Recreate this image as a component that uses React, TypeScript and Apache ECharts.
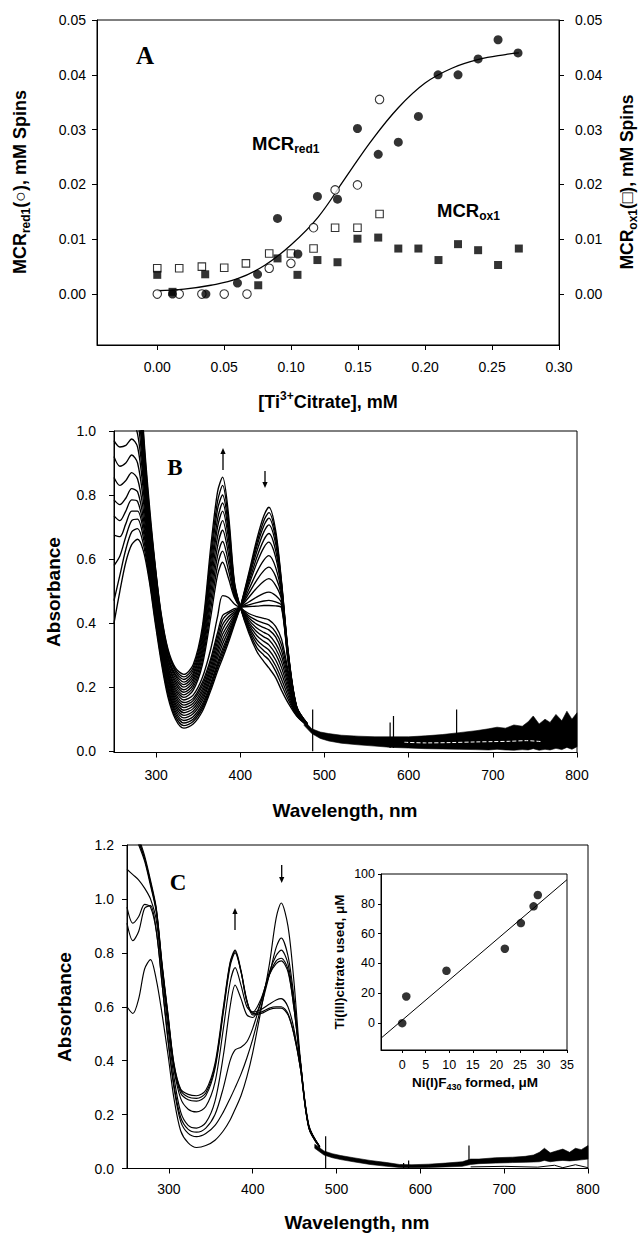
import React, { useEffect, useRef } from "react";
import * as echarts from "echarts";

const SANS = "'Liberation Sans', Arial, Helvetica, sans-serif";
const SERIF = "'Liberation Serif', 'Times New Roman', serif";

// ---------------- Panel A ----------------
const aXTicks = [0, 0.05, 0.1, 0.15, 0.2, 0.25, 0.3];
const aYTicks = [0, 0.01, 0.02, 0.03, 0.04, 0.05];
const red1Open = [
  [0, 0], [0.0164, 0], [0.0333, 0], [0.05, 0], [0.067, 0], [0.0836, 0.0047], [0.0998, 0.0056],
  [0.1167, 0.0121], [0.1328, 0.019], [0.1495, 0.0199], [0.166, 0.0355],
];
const red1Filled = [
  [0.0114, 0], [0.0363, 0], [0.0599, 0.002], [0.0749, 0.0036], [0.0898, 0.0138], [0.105, 0.0073],
  [0.1196, 0.0178], [0.1346, 0.0173], [0.1495, 0.0302], [0.165, 0.0255], [0.18, 0.0277],
  [0.195, 0.0324], [0.2097, 0.04], [0.2246, 0.04], [0.2396, 0.0429], [0.2545, 0.0464], [0.2694, 0.044],
];
const ox1Open = [
  [0, 0.0047], [0.0164, 0.0047], [0.0333, 0.005], [0.05, 0.0048], [0.0662, 0.0056], [0.0836, 0.0074],
  [0.0998, 0.0074], [0.1167, 0.0083], [0.1328, 0.0121], [0.1495, 0.0121], [0.166, 0.0146],
];
const ox1Filled = [
  [0, 0.0035], [0.0114, 0.0004], [0.0358, 0.0036], [0.0754, 0.0016], [0.0898, 0.0065], [0.1047, 0.0035],
  [0.1196, 0.0062], [0.1346, 0.0058], [0.1495, 0.0101], [0.165, 0.0103], [0.18, 0.0083], [0.195, 0.0083],
  [0.21, 0.0062], [0.2246, 0.0091], [0.2396, 0.008], [0.2545, 0.0053], [0.27, 0.0083],
];
const fitX = [0, 0.02, 0.04, 0.06, 0.08, 0.1, 0.12, 0.14, 0.16, 0.18, 0.2, 0.22, 0.24, 0.26, 0.27];
const fitY = [0.0006, 0.0009, 0.0016, 0.0028, 0.0052, 0.009, 0.014, 0.021, 0.028, 0.034, 0.0385, 0.0412, 0.0428, 0.0437, 0.044];

// ---------------- Spectra (B and C) ----------------
const specXTicks = [300, 400, 500, 600, 700, 800];
const bYTicks = [0, 0.2, 0.4, 0.6, 0.8, 1.0];
const cYTicks = [0, 0.2, 0.4, 0.6, 0.8, 1.0, 1.2];
const wavelengths = [250, 257, 264, 271, 278, 285, 292, 299, 306, 314, 323, 333, 344, 355, 365, 373, 379, 386, 393, 400, 410, 420, 428, 434, 442, 449, 457, 467, 480];

const spectraB = [
  [.40, .50, .59, .645, .662, .625, .53, .40, .28, .17, .10, .072, .085, .125, .19, .25, .29, .34, .395, .45, .555, .665, .735, .762, .69, .53, .31, .14, .085],
  [.47, .55, .63, .685, .695, .645, .54, .41, .29, .18, .108, .08, .093, .133, .198, .26, .30, .35, .40, .45, .549, .653, .72, .745, .677, .526, .308, .139, .085],
  [.58, .61, .67, .72, .725, .665, .55, .42, .30, .19, .116, .088, .10, .14, .205, .268, .31, .357, .405, .45, .544, .642, .704, .728, .664, .521, .305, .138, .085],
  [.675, .67, .71, .75, .75, .685, .56, .43, .305, .195, .124, .096, .108, .148, .213, .277, .32, .364, .41, .45, .537, .627, .685, .707, .648, .516, .302, .137, .084],
  [.735, .72, .75, .785, .78, .705, .57, .44, .31, .20, .132, .104, .117, .158, .225, .29, .335, .375, .415, .45, .527, .608, .66, .68, .627, .509, .30, .136, .084],
  [.785, .77, .79, .82, .81, .725, .58, .45, .32, .21, .14, .112, .125, .167, .235, .303, .35, .386, .42, .45, .518, .59, .636, .653, .606, .502, .297, .135, .083],
  [.855, .83, .845, .87, .85, .75, .59, .46, .33, .22, .148, .12, .133, .176, .246, .316, .365, .397, .425, .45, .504, .561, .597, .611, .574, .491, .293, .134, .083],
  [.92, .89, .90, .925, .90, .78, .60, .465, .34, .23, .156, .128, .141, .186, .257, .33, .38, .41, .43, .45, .492, .536, .564, .575, .546, .482, .29, .133, .082],
  [.97, .95, .955, .975, .95, .81, .61, .47, .345, .235, .164, .136, .15, .195, .268, .344, .395, .42, .435, .45, .48, .511, .531, .539, .518, .473, .287, .132, .082],
  [1.05, 1.02, 1.02, 1.03, .99, .84, .62, .48, .35, .24, .172, .144, .158, .205, .28, .357, .41, .43, .44, .45, .466, .482, .493, .497, .486, .462, .283, .131, .081],
  [1.2, 1.15, 1.12, 1.1, 1.04, .86, .635, .49, .355, .245, .18, .152, .165, .215, .29, .37, .424, .435, .445, .45, .457, .464, .469, .471, .466, .455, .28, .13, .081],
  [1.35, 1.3, 1.25, 1.2, 1.1, .88, .65, .50, .36, .25, .188, .16, .175, .23, .32, .42, .486, .48, .46, .45, .452, .453, .455, .455, .454, .448, .277, .129, .08],
  [1.5, 1.45, 1.38, 1.28, 1.15, .90, .665, .51, .37, .26, .195, .168, .19, .27, .42, .55, .59, .54, .48, .45, .43, .42, .415, .41, .39, .35, .25, .125, .08],
  [1.6, 1.52, 1.44, 1.33, 1.18, .91, .68, .52, .375, .265, .203, .176, .199, .283, .445, .58, .625, .565, .486, .45, .423, .408, .40, .394, .372, .332, .239, .123, .08],
  [1.7, 1.6, 1.5, 1.37, 1.2, .92, .69, .53, .385, .275, .211, .184, .208, .297, .47, .61, .655, .59, .492, .45, .417, .396, .386, .379, .357, .314, .228, .122, .08],
  [1.8, 1.68, 1.56, 1.41, 1.22, .93, .70, .54, .39, .28, .219, .192, .217, .31, .495, .64, .69, .615, .498, .45, .41, .384, .371, .363, .337, .297, .217, .12, .08],
  [1.9, 1.76, 1.62, 1.45, 1.24, .94, .71, .55, .40, .29, .227, .20, .226, .323, .52, .67, .72, .64, .504, .45, .403, .372, .357, .348, .32, .279, .206, .118, .08],
  [2.0, 1.84, 1.68, 1.49, 1.26, .95, .72, .555, .405, .295, .235, .208, .235, .337, .545, .70, .75, .665, .51, .45, .397, .36, .343, .332, .303, .261, .194, .117, .08],
  [2.1, 1.92, 1.74, 1.53, 1.28, .96, .73, .56, .41, .30, .24, .216, .243, .35, .568, .725, .775, .685, .515, .45, .39, .347, .328, .316, .285, .243, .183, .115, .08],
  [2.2, 2.0, 1.8, 1.57, 1.30, .97, .745, .57, .42, .31, .248, .224, .252, .363, .592, .755, .80, .70, .52, .45, .383, .335, .314, .30, .267, .225, .172, .113, .08],
  [2.3, 2.08, 1.86, 1.61, 1.32, .985, .755, .575, .425, .315, .254, .232, .261, .377, .616, .78, .83, .72, .525, .45, .377, .322, .30, .285, .25, .208, .161, .112, .08],
  [2.4, 2.16, 1.92, 1.65, 1.34, 1.0, .77, .58, .43, .32, .26, .24, .27, .39, .64, .81, .856, .74, .53, .45, .37, .31, .28, .26, .23, .19, .15, .11, .08],
];

const noiseWB = [476, 485, 495, 505, 520, 540, 560, 580, 600, 620, 640, 660, 680, 695, 705, 715, 725, 735, 742, 748, 755, 762, 768, 775, 782, 788, 794, 800];
const noiseLowB = [.08, .055, .04, .032, .025, .02, .016, .012, .01, .008, .007, .006, .005, .004, .006, .004, .003, .005, .004, .008, .003, .006, .004, .009, .005, .012, .006, .014];
const noiseHighB = [.095, .07, .06, .055, .05, .047, .045, .045, .045, .048, .052, .058, .064, .07, .075, .072, .082, .078, .092, .11, .085, .1, .09, .115, .095, .125, .1, .12];
const gapB = [[595, .028], [620, .026], [650, .027], [680, .029], [700, .03], [720, .031], [740, .033], [758, .03]];
const spikesB = [[486, 0, 0.13], [578, 0.01, 0.09], [582, 0.01, 0.11], [657, 0.01, 0.13]];

const spectraC = [
  [.60, .575, .63, .74, .775, .70, .57, .42, .26, .14, .095, .078, .085, .105, .14, .18, .22, .27, .34, .43, .59, .76, .93, .985, .90, .70, .40, .16, .08],
  [.91, .845, .88, .965, .975, .88, .68, .47, .30, .175, .13, .118, .13, .16, .21, .26, .30, .35, .41, .48, .60, .72, .82, .855, .79, .64, .39, .155, .08],
  [.97, .91, .935, .98, .97, .88, .68, .48, .31, .19, .145, .135, .15, .20, .30, .40, .44, .45, .47, .52, .62, .73, .79, .81, .76, .62, .39, .155, .08],
  [1.11, 1.09, 1.07, 1.04, 1.0, .92, .72, .52, .34, .21, .16, .15, .17, .25, .42, .60, .68, .63, .57, .56, .62, .72, .77, .78, .74, .60, .39, .155, .08],
  [1.3, 1.25, 1.2, 1.14, 1.05, .95, .74, .55, .37, .26, .22, .21, .23, .32, .52, .69, .745, .68, .60, .58, .63, .72, .76, .77, .73, .60, .39, .155, .08],
  [1.35, 1.28, 1.21, 1.15, 1.06, .955, .745, .56, .38, .28, .255, .25, .27, .37, .58, .75, .80, .73, .62, .58, .59, .61, .625, .63, .60, .52, .37, .15, .078],
  [1.4, 1.3, 1.22, 1.15, 1.06, .96, .75, .565, .385, .29, .265, .26, .28, .38, .59, .76, .805, .73, .62, .575, .58, .595, .60, .60, .575, .50, .37, .15, .078],
  [1.45, 1.32, 1.23, 1.16, 1.07, .965, .755, .57, .39, .295, .275, .27, .29, .39, .60, .765, .81, .735, .625, .57, .575, .59, .595, .595, .57, .50, .37, .15, .078],
];

const noiseWC = [474, 485, 495, 505, 520, 540, 560, 575, 590, 610, 630, 650, 660, 670, 690, 710, 725, 735, 742, 748, 755, 762, 770, 778, 785, 792, 800];
const noiseLowC = [.075, .05, .04, .033, .025, .015, .008, .004, .003, .004, .006, .008, .015, .018, .02, .022, .023, .024, .025, .03, .025, .028, .03, .028, .03, .032, .035];
const noiseHighC = [.09, .065, .055, .048, .04, .03, .022, .015, .014, .016, .02, .025, .035, .035, .04, .042, .045, .05, .06, .075, .058, .065, .072, .06, .075, .07, .085];
const lowLineC = [[660, .006], [700, .008], [740, .005], [760, .012], [770, .003], [785, .014], [800, .003]];
const spikesC = [[487, 0, 0.12], [580, 0, 0.02], [586, 0, 0.03], [658, 0.02, 0.085]];

// ---------------- Inset ----------------
const insetXTicks = [0, 5, 10, 15, 20, 25, 30, 35];
const insetYTicks = [0, 20, 40, 60, 80, 100];
const niFormed = [0, 0.87, 9.4, 21.8, 25.2, 27.9, 28.8];
const tiUsed = [0, 17.9, 35.1, 49.9, 67.1, 78.3, 85.9];
const insetFitX = [-4.5, 35];
const insetFitY = [-10.1, 96.2];

// ---------------- helpers ----------------
function axis(extra: any, ticks: number[], fmt: (v: number) => string, fontSize = 14, margin = 12, tickLen = 5) {
  return {
    type: "value",
    axisLine: { show: true, onZero: false, lineStyle: { color: "#000", width: 1 } },
    axisTick: { show: true, inside: false, length: tickLen, customValues: ticks, lineStyle: { color: "#000", width: 1 } },
    axisLabel: { show: true, customValues: ticks, formatter: fmt, color: "#000", fontFamily: SANS, fontSize, margin },
    splitLine: { show: false },
    ...extra,
  };
}

function bandSeries(xi: number, yi: number, ws: number[], lo: number[], hi: number[]) {
  return {
    type: "custom", xAxisIndex: xi, yAxisIndex: yi, silent: true, z: 3,
    data: ws.map((w, i) => [w, lo[i], hi[i]]),
    encode: { x: 0, y: [1, 2] },
    renderItem: (params: any, api: any) => {
      if (params.dataIndex !== 0) return { type: "group", children: [] };
      const pts: number[][] = [];
      for (let i = 0; i < ws.length; i++) pts.push(api.coord([ws[i], hi[i]]));
      for (let i = ws.length - 1; i >= 0; i--) pts.push(api.coord([ws[i], lo[i]]));
      return { type: "polygon", shape: { points: pts }, style: { fill: "#000", stroke: "#000", lineWidth: 0.6 } };
    },
  };
}

function spikeSeries(xi: number, yi: number, spikes: number[][]) {
  return {
    type: "custom", xAxisIndex: xi, yAxisIndex: yi, silent: true, z: 4,
    data: spikes,
    encode: { x: 0, y: [1, 2] },
    renderItem: (params: any, api: any) => {
      const a = api.coord([api.value(0), api.value(1)]);
      const b = api.coord([api.value(0), api.value(2)]);
      return { type: "line", shape: { x1: a[0], y1: a[1], x2: b[0], y2: b[1] }, style: { stroke: "#000", lineWidth: 1.2 } };
    },
  };
}

function spectraSeries(xi: number, yi: number, rows: number[][], width: number) {
  return rows.map((row) => ({
    type: "line", xAxisIndex: xi, yAxisIndex: yi, silent: true, z: 2,
    data: wavelengths.map((w, i) => [w, row[i]]),
    smooth: 0.3, symbol: "none", clip: true,
    lineStyle: { color: "#000", width },
  }));
}

function rich(size: number) {
  const sub = Math.round(size * 0.66);
  return {
    b: { fontFamily: SANS, fontWeight: "bold", fontSize: size, lineHeight: size + 6, fill: "#000", color: "#000" },
    s: { fontFamily: SANS, fontWeight: "bold", fontSize: sub, lineHeight: sub, verticalAlign: "bottom", fill: "#000", color: "#000" },
    u: { fontFamily: SANS, fontWeight: "bold", fontSize: sub, lineHeight: sub, verticalAlign: "top", fill: "#000", color: "#000" },
  };
}

function label(text: string, x: number, y: number, size: number, opts: any = {}) {
  return {
    type: "text", x, y, rotation: opts.rotate ? Math.PI / 2 : 0, silent: true, z: 10,
    style: {
      text, rich: rich(size), fill: "#000",
      fontFamily: SANS, fontWeight: "bold", fontSize: size,
      align: opts.align || "center", verticalAlign: "middle",
    },
  };
}

function letter(text: string, x: number, y: number, size: number) {
  return {
    type: "text", x, y, silent: true, z: 10,
    style: { text, fill: "#000", fontFamily: SERIF, fontWeight: "bold", fontSize: size, align: "center", verticalAlign: "middle" },
  };
}

function arrow(x: number, yTail: number, yHead: number) {
  const dir = yHead < yTail ? -1 : 1;
  return {
    type: "group", silent: true, z: 10,
    children: [
      { type: "line", shape: { x1: x, y1: yTail, x2: x, y2: yHead - dir * 3 }, style: { stroke: "#000", lineWidth: 1.3 } },
      { type: "polygon", shape: { points: [[x - 2.6, yHead - dir * 6], [x + 2.6, yHead - dir * 6], [x, yHead]] }, style: { fill: "#000" } },
    ],
  };
}

const f2 = (v: number) => v.toFixed(2);
const f1 = (v: number) => v.toFixed(1);
const f0 = (v: number) => String(Math.round(v));

function buildOption() {
  const pair = (xs: number[], ys: number[]) => xs.map((x, i) => [x, ys[i]]);
  return {
    animation: false,
    backgroundColor: "#fff",
    grid: [
      { left: 97, top: 20, width: 462, height: 325, show: true, borderColor: "#000", borderWidth: 1, backgroundColor: "transparent" },
      { left: 114, top: 431, width: 463, height: 321.5, show: true, borderColor: "#000", borderWidth: 1, backgroundColor: "transparent" },
      { left: 127, top: 845, width: 461, height: 323.5, show: true, borderColor: "#000", borderWidth: 1, backgroundColor: "transparent" },
      { left: 381, top: 874, width: 186, height: 176, show: true, borderColor: "#000", borderWidth: 1, backgroundColor: "#fff" },
    ],
    xAxis: [
      axis({ gridIndex: 0, min: -0.045, max: 0.3 }, aXTicks, f2, 14, 15),
      axis({ gridIndex: 1, min: 250, max: 800 }, specXTicks, f0, 14, 15),
      axis({ gridIndex: 2, min: 250, max: 800 }, specXTicks, f0, 14, 13),
      axis({ gridIndex: 3, min: -4.5, max: 35 }, insetXTicks, f0, 12.5, 8, 3),
    ],
    yAxis: [
      axis({ gridIndex: 0, min: -0.0093, max: 0.05 }, aYTicks, f2, 14, 11),
      axis({ gridIndex: 0, min: -0.0093, max: 0.05, position: "right" }, aYTicks, f2, 14, 16),
      axis({ gridIndex: 1, min: -0.004, max: 1.0 }, bYTicks, f1, 14, 18),
      axis({ gridIndex: 2, min: 0, max: 1.2 }, cYTicks, f1, 14, 13),
      axis({ gridIndex: 3, min: -18, max: 100 }, insetYTicks, f0, 12.5, 6, 3),
    ],
    series: [
      // Panel A
      { type: "line", xAxisIndex: 0, yAxisIndex: 0, data: pair(fitX, fitY), smooth: 0.4, symbol: "none", silent: true, lineStyle: { color: "#000", width: 1.3 }, z: 2 },
      { type: "scatter", xAxisIndex: 0, yAxisIndex: 1, data: ox1Open, symbol: "rect", symbolSize: 7.5, silent: true, itemStyle: { color: "#fff", borderColor: "#000", borderWidth: 1.1 }, z: 3 },
      { type: "scatter", xAxisIndex: 0, yAxisIndex: 1, data: ox1Filled, symbol: "rect", symbolSize: 8, silent: true, itemStyle: { color: "#000" }, z: 3 },
      { type: "scatter", xAxisIndex: 0, yAxisIndex: 0, data: red1Open, symbol: "circle", symbolSize: 8.5, silent: true, itemStyle: { color: "#fff", borderColor: "#000", borderWidth: 1.1 }, z: 4 },
      { type: "scatter", xAxisIndex: 0, yAxisIndex: 0, data: red1Filled, symbol: "circle", symbolSize: 9, silent: true, itemStyle: { color: "#000" }, z: 4 },
      // Panel B
      ...spectraSeries(1, 2, spectraB, 1.35),
      bandSeries(1, 2, noiseWB, noiseLowB, noiseHighB),
      { type: "line", xAxisIndex: 1, yAxisIndex: 2, data: gapB, smooth: 0.3, symbol: "none", silent: true, z: 5, lineStyle: { color: "#fff", width: 1, type: "dashed" } },
      spikeSeries(1, 2, spikesB),
      // Panel C
      ...spectraSeries(2, 3, spectraC, 1.15),
      bandSeries(2, 3, noiseWC, noiseLowC, noiseHighC),
      { type: "line", xAxisIndex: 2, yAxisIndex: 3, data: lowLineC, symbol: "none", silent: true, z: 3, lineStyle: { color: "#000", width: 1 } },
      spikeSeries(2, 3, spikesC),
      // Inset
      { type: "line", xAxisIndex: 3, yAxisIndex: 4, data: pair(insetFitX, insetFitY), symbol: "none", silent: true, clip: true, lineStyle: { color: "#000", width: 1 }, z: 6 },
      { type: "scatter", xAxisIndex: 3, yAxisIndex: 4, data: pair(niFormed, tiUsed), symbol: "circle", symbolSize: 8.5, silent: true, itemStyle: { color: "#000" }, z: 7 },
    ],
    graphic: [
      label("{b|MCR}{s|red1}{b|(○), mM Spins}", 20, 182, 18, { rotate: true }),
      label("{b|MCR}{s|ox1}{b|(□), mM Spins}", 627, 182, 17.5, { rotate: true }),
      label("{b|[Ti}{u|3+}{b|Citrate], mM}", 328, 402, 18),
      letter("A", 145, 55, 25),
      label("{b|MCR}{s|red1}", 252, 143, 18.5, { align: "left" }),
      label("{b|MCR}{s|ox1}", 437, 210, 18.5, { align: "left" }),
      label("{b|Absorbance}", 53, 592, 19, { rotate: true }),
      label("{b|Wavelength, nm}", 345, 810, 19),
      letter("B", 175, 467, 23),
      arrow(223, 470, 448),
      arrow(265, 471, 488),
      label("{b|Absorbance}", 64, 1007, 19, { rotate: true }),
      label("{b|Wavelength, nm}", 357, 1222, 19),
      letter("C", 178, 882, 23),
      arrow(235, 930, 908),
      arrow(281.7, 865, 883),
      label("{b|Ti(III)citrate used, μM}", 339, 962, 13.5, { rotate: true }),
      label("{b|Ni(I)F}{s|430}{b| formed, μM}", 475, 1082, 13.5),
    ],
  };
}

export default function App() {
  const ref = useRef<HTMLDivElement>(null);
  useEffect(() => {
    document.body.style.margin = "0";
    const chart = echarts.init(ref.current as HTMLDivElement, null, { renderer: "svg", width: 641, height: 1235 });
    chart.setOption(buildOption() as any);
    return () => chart.dispose();
  }, []);
  return <div ref={ref} style={{ width: 641, height: 1235, background: "#fff" }} />;
}
